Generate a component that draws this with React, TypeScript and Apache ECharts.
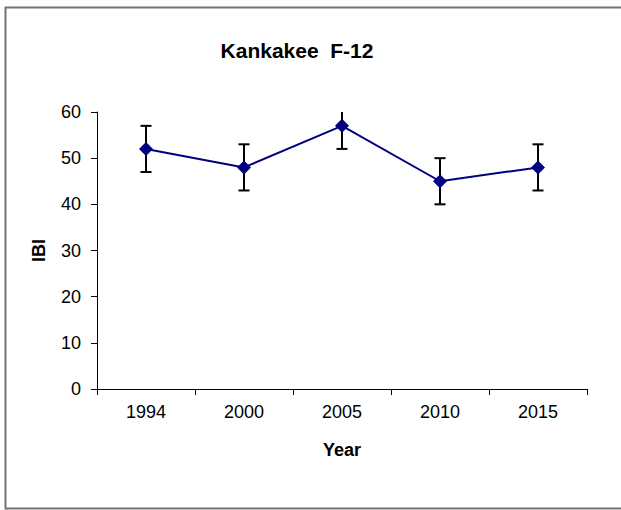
import React, { useEffect, useRef } from "react";
import * as echarts from "echarts";

const years = ["1994", "2000", "2005", "2010", "2015"];
const ibi = [52, 48, 57, 45, 48];
const errLow = [47, 43, 52, 40, 43];
const errHigh = [57, 53, 62, 50, 53];
const yTicks = [0, 10, 20, 30, 40, 50, 60];

export default function App() {
  const ref = useRef<HTMLDivElement>(null);
  useEffect(() => {
    if (!ref.current) return;
    const chart = echarts.init(ref.current, null, { renderer: "svg" });
    const font = "Arial, 'Liberation Sans', sans-serif";
    chart.setOption({
      animation: false,
      backgroundColor: "#ffffff",
      title: {
        text: "Kankakee  F-12",
        left: 292,
        top: 35,
        textAlign: "center",
        textStyle: { fontFamily: font, fontSize: 21, fontWeight: "bold", color: "#000" },
      },
      graphic: [
        {
          type: "rect",
          shape: { x: 5.5, y: 7.5, width: 640, height: 501 },
          style: { fill: "none", stroke: "#737373", lineWidth: 2 },
          silent: true,
        },
      ],
      grid: { left: 97, top: 112, width: 490, height: 277 },
      xAxis: {
        type: "category",
        data: years,
        boundaryGap: true,
        name: "Year",
        nameLocation: "middle",
        nameGap: 52,
        nameTextStyle: { fontFamily: font, fontSize: 18, fontWeight: "bold", color: "#000" },
        axisLine: { lineStyle: { color: "#000", width: 1 } },
        axisTick: { show: true, alignWithLabel: false, length: 6, lineStyle: { color: "#000" } },
        axisLabel: { fontFamily: font, fontSize: 18, color: "#000", margin: 14 },
        splitLine: { show: false },
      },
      yAxis: {
        type: "value",
        min: yTicks[0],
        max: yTicks[yTicks.length - 1],
        interval: 10,
        name: "IBI",
        nameLocation: "middle",
        nameGap: 49,
        nameRotate: 90,
        nameTextStyle: { fontFamily: font, fontSize: 18, fontWeight: "bold", color: "#000" },
        axisLine: { show: true, lineStyle: { color: "#000", width: 1 } },
        axisTick: { show: true, length: 6, lineStyle: { color: "#000" } },
        axisLabel: { fontFamily: font, fontSize: 18, color: "#000", margin: 16 },
        splitLine: { show: false },
      },
      series: [
        {
          type: "custom",
          clip: true,
          z: 1,
          data: years.map((_, i) => [i, errLow[i], errHigh[i]]),
          renderItem: (params: any, api: any) => {
            const x = api.value(0);
            const lo = api.coord([x, api.value(1)]);
            const hi = api.coord([x, api.value(2)]);
            const topY = params.coordSys.y;
            const hiY = Math.max(hi[1], topY);
            const capHalf = 5.5;
            const style = { stroke: "#000", lineWidth: 2, fill: "none" };
            const children: any[] = [
              { type: "line", shape: { x1: lo[0], y1: lo[1], x2: lo[0], y2: hiY }, style },
              { type: "line", shape: { x1: lo[0] - capHalf, y1: lo[1], x2: lo[0] + capHalf, y2: lo[1] }, style },
            ];
            if (hi[1] >= topY) {
              children.push({ type: "line", shape: { x1: hi[0] - capHalf, y1: hi[1], x2: hi[0] + capHalf, y2: hi[1] }, style });
            }
            return { type: "group", children };
          },
        },
        {
          type: "line",
          data: ibi,
          z: 2,
          symbol: "diamond",
          symbolSize: 14,
          lineStyle: { color: "#000080", width: 2 },
          itemStyle: { color: "#000080" },
        },
      ],
    });
    return () => chart.dispose();
  }, []);
  return <div ref={ref} style={{ position: "fixed", left: 0, top: 0, width: 621, height: 510 }} />;
}
